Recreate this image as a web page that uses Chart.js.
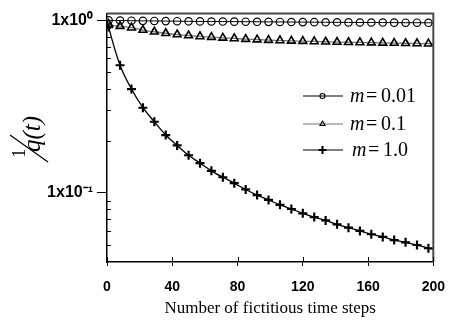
<!DOCTYPE html>
<html>
<head>
<meta charset="utf-8">
<script src="https://cdn.jsdelivr.net/npm/chart.js@4.4.1/dist/chart.umd.min.js"></script>
<style>
  html, body { margin: 0; padding: 0; background: #fff; }
  #wrap { width: 458px; height: 324px; }
</style>
</head>
<body>
<div id="wrap"><canvas id="c" width="458" height="324"></canvas></div>
<script>
// ---- data ----
const steps = [0, 1, 8, 15, 22, 29, 36, 43, 50, 57, 64, 71, 78, 85, 92, 99, 106, 113, 120, 127, 134, 141, 148, 155, 162, 169, 176, 183, 190, 197, 200];
const m001 = [1.0, 0.998, 0.995, 0.993, 0.991, 0.990, 0.988, 0.987, 0.985, 0.984, 0.983, 0.982, 0.981, 0.980, 0.979, 0.978, 0.977, 0.976, 0.975, 0.974, 0.973, 0.972, 0.971, 0.970, 0.970, 0.969, 0.968, 0.967, 0.967, 0.966, 0.966];
const m01  = [1.0, 0.950, 0.924, 0.905, 0.877, 0.857, 0.840, 0.826, 0.815, 0.805, 0.798, 0.790, 0.784, 0.777, 0.772, 0.767, 0.763, 0.759, 0.756, 0.753, 0.750, 0.747, 0.745, 0.743, 0.741, 0.739, 0.737, 0.735, 0.733, 0.731, 0.730];
const m1   = [1.0, 0.912, 0.548, 0.399, 0.311, 0.258, 0.216, 0.188, 0.165, 0.1485, 0.134, 0.123, 0.1136, 0.1045, 0.097, 0.0909, 0.0851, 0.0805, 0.0760, 0.0723, 0.0691, 0.0656, 0.0628, 0.0601, 0.0575, 0.0555, 0.0532, 0.0516, 0.0498, 0.0477, 0.0472];
const seriesNames = ['0.01', '0.1', '1.0'];
const xTickVals = [0, 40, 80, 120, 160, 200];
const yMajorVals = [0.1, 1];
const yMajorLabels = ['1x10\u207B\u00B9', '1x10\u2070'];
const yMinorVals = [0.04, 0.05, 0.06, 0.07, 0.08, 0.09, 0.2, 0.3, 0.4, 0.5, 0.6, 0.7, 0.8, 0.9];
const xTitle = 'Number of fictitious time steps';

const SERIF = '"Liberation Serif", "Times New Roman", serif';
const SANS = '"Liberation Sans", Arial, sans-serif';

const toXY = arr => arr.map((v, i) => ({ x: steps[i], y: v }));
const hideEnds = r => ctx => (ctx.dataIndex === 0 || ctx.dataIndex === steps.length - 1) ? 0 : r;

const styles = [
  { line: '#000', lw: 1, pStyle: 'circle', r: 3.7, pw: 1.2, lr: 2.5 },
  { line: '#777', lw: 1.3, pStyle: 'triangle', r: 4.5, pw: 1.6, lr: 3 },
  { line: '#000', lw: 1.3, pStyle: 'cross', r: 4.5, pw: 2.2, lr: 4 }
];
const dataArrays = [m001, m01, m1];

const datasets = dataArrays.map((arr, k) => ({
  label: 'm = ' + seriesNames[k],
  data: toXY(arr),
  borderColor: styles[k].line,
  borderWidth: styles[k].lw,
  pointStyle: styles[k].pStyle,
  pointRadius: hideEnds(styles[k].r),
  pointBorderColor: '#000',
  pointBackgroundColor: 'rgba(0,0,0,0)',
  pointBorderWidth: styles[k].pw,
  cubicInterpolationMode: 'monotone',
  fill: false
}));

function drawMarker(ctx, style, x, y, r, lw) {
  ctx.save();
  ctx.strokeStyle = '#000';
  ctx.lineWidth = lw;
  ctx.beginPath();
  if (style === 'circle') {
    ctx.arc(x, y, r, 0, Math.PI * 2);
  } else if (style === 'triangle') {
    for (let i = 0; i < 3; i++) {
      const a = i * 2 * Math.PI / 3;
      const px = x + Math.sin(a) * r, py = y - Math.cos(a) * r;
      if (i === 0) ctx.moveTo(px, py); else ctx.lineTo(px, py);
    }
    ctx.closePath();
  } else {
    ctx.moveTo(x - r, y); ctx.lineTo(x + r, y);
    ctx.moveTo(x, y - r); ctx.lineTo(x, y + r);
  }
  ctx.stroke();
  ctx.restore();
}

const decor = {
  id: 'decor',
  afterDraw(chart) {
    const { ctx, chartArea: a, scales: { x, y } } = chart;
    ctx.save();
    // top and right frame
    ctx.strokeStyle = '#4a4a4a';
    ctx.lineWidth = 2;
    ctx.beginPath();
    ctx.moveTo(a.left, a.top);
    ctx.lineTo(a.right, a.top);
    ctx.lineTo(a.right, a.bottom);
    ctx.stroke();
    // minor y ticks (inside)
    ctx.strokeStyle = '#000';
    ctx.lineWidth = 1;
    ctx.beginPath();
    yMinorVals.forEach(v => {
      const py = Math.round(y.getPixelForValue(v)) + 0.5;
      ctx.moveTo(a.left, py); ctx.lineTo(a.left + 4, py);
    });
    // inner part of x ticks
    xTickVals.forEach(v => {
      const px = Math.round(x.getPixelForValue(v)) + 0.5;
      ctx.moveTo(px, a.bottom); ctx.lineTo(px, a.bottom - 5);
    });
    ctx.stroke();

    // legend
    const rows = [96, 124, 150];
    dataArrays.forEach((arr, k) => {
      const ry = rows[k];
      ctx.strokeStyle = styles[k].line;
      ctx.lineWidth = 1.2;
      ctx.beginPath();
      ctx.moveTo(303, ry); ctx.lineTo(343, ry);
      ctx.stroke();
      drawMarker(ctx, styles[k].pStyle, 322.5, ry, styles[k].lr, k === 2 ? 2 : 1.1);
      ctx.fillStyle = '#000';
      ctx.textBaseline = 'middle';
      ctx.textAlign = 'left';
      const off = k === 2 ? 2 : 0;
      ctx.font = 'italic 20px ' + SERIF;
      ctx.fillText('m', 350 + off, ry + 1);
      ctx.font = '20px ' + SERIF;
      ctx.fillText('=', 366 + off, ry + 1);
      ctx.fillText(seriesNames[k], 381 + off, ry + 1);
    });

    // y-axis title: 1/q(t) rotated
    ctx.save();
    ctx.translate(30, 140);
    ctx.rotate(-Math.PI / 2);
    ctx.fillStyle = '#000';
    ctx.textBaseline = 'alphabetic';
    ctx.textAlign = 'left';
    ctx.font = '19px ' + SERIF;
    ctx.fillText('1', -18, -5);
    ctx.strokeStyle = '#000';
    ctx.lineWidth = 1.2;
    ctx.beginPath();
    ctx.moveTo(-22, 18); ctx.lineTo(5, -20);
    ctx.stroke();
    ctx.font = 'italic 25px ' + SERIF;
    ctx.fillText('q(t)', -12, 10);
    ctx.restore();

    ctx.restore();
  }
};

new Chart(document.getElementById('c'), {
  type: 'line',
  data: { datasets },
  plugins: [decor],
  options: {
    responsive: false,
    animation: false,
    layout: { padding: { top: 9, right: 13, left: 0, bottom: 0 } },
    plugins: { legend: { display: false }, tooltip: { enabled: false } },
    scales: {
      x: {
        type: 'linear',
        min: 0, max: 200,
        afterFit: s => { s.height = 62; },
        afterBuildTicks: s => { s.ticks = xTickVals.map(v => ({ value: v })); },
        grid: { drawOnChartArea: false, drawTicks: true, tickLength: 4, color: '#000', lineWidth: 1 },
        border: { display: true, color: '#000', width: 1.5 },
        ticks: { color: '#000', font: { family: SANS, size: 14, weight: 'bold' }, padding: 13, maxRotation: 0 },
        title: { display: true, text: xTitle, color: '#000', font: { family: SERIF, size: 17 }, padding: { top: 0, bottom: 5 } }
      },
      y: {
        type: 'logarithmic',
        min: 0.0397, max: 1.092,
        afterFit: s => { s.width = 107; },
        afterBuildTicks: s => { s.ticks = yMajorVals.map(v => ({ value: v })); },
        grid: { drawOnChartArea: false, drawTicks: true, tickLength: 10, color: '#000', lineWidth: 1 },
        border: { display: true, color: '#000', width: 1.5 },
        ticks: {
          color: '#000', font: { family: SANS, size: 16, weight: 'bold' }, padding: 4,
          callback: v => { const i = yMajorVals.indexOf(v); return i >= 0 ? yMajorLabels[i] : ''; }
        }
      }
    }
  }
});
</script>
</body>
</html>
